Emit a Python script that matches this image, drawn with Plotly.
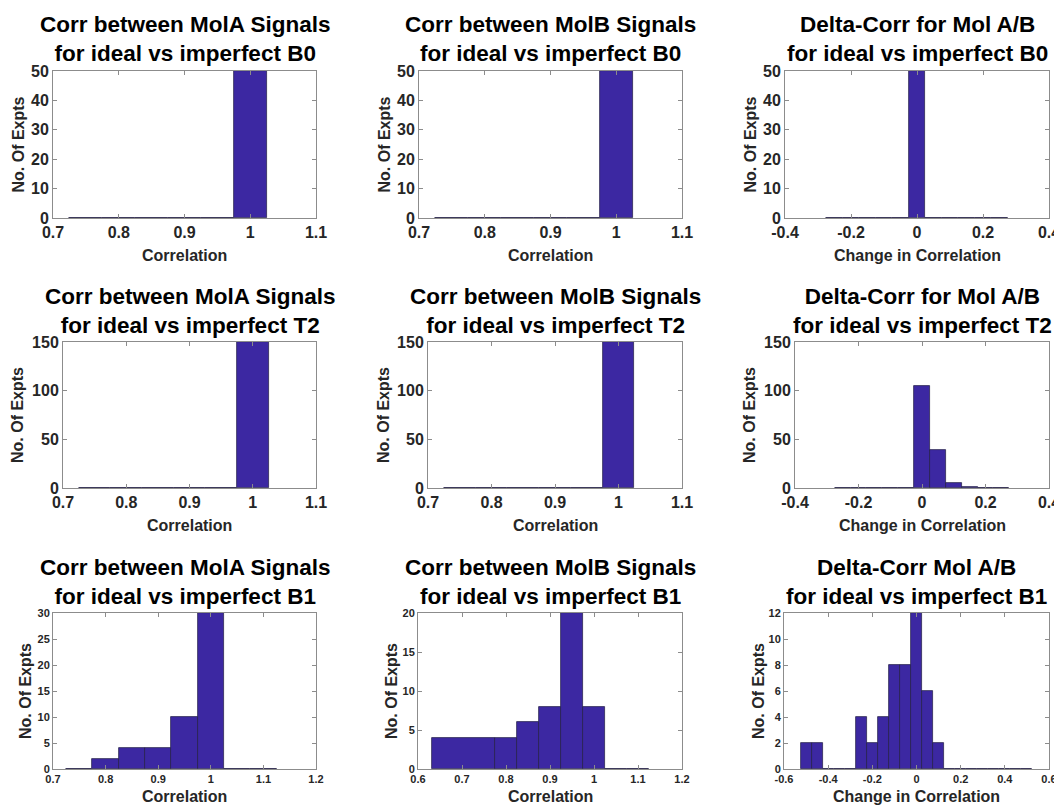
import plotly.graph_objects as go

# ---------------- data ----------------
titles = [
    "Corr between MolA Signals<br>for ideal vs imperfect B0",
    "Corr between MolB Signals<br>for ideal vs imperfect B0",
    "Delta-Corr for Mol A/B<br>for ideal vs imperfect B0",
    "Corr between MolA Signals<br>for ideal vs imperfect T2",
    "Corr between MolB Signals<br>for ideal vs imperfect T2",
    "Delta-Corr for Mol A/B<br>for ideal vs imperfect T2",
    "Corr between MolA Signals<br>for ideal vs imperfect B1",
    "Corr between MolB Signals<br>for ideal vs imperfect B1",
    "Delta-Corr Mol A/B<br>for ideal vs imperfect B1",
]
x_labels = ["Correlation", "Correlation", "Change in Correlation"] * 3
y_label = "No. Of Expts"

# histogram bin edges and counts
molA_B0_edges = [0.725, 0.775, 0.825, 0.875, 0.925, 0.975, 1.025]
molA_B0_counts = [0, 0, 0, 0, 0, 50]
molB_B0_edges = [0.725, 0.775, 0.825, 0.875, 0.925, 0.975, 1.025]
molB_B0_counts = [0, 0, 0, 0, 0, 50]
delta_B0_edges = [-0.275, -0.225, -0.175, -0.125, -0.075, -0.025, 0.025, 0.075, 0.125, 0.175, 0.225, 0.275]
delta_B0_counts = [0, 0, 0, 0, 0, 50, 0, 0, 0, 0, 0]

molA_T2_edges = [0.725, 0.775, 0.825, 0.875, 0.925, 0.975, 1.025]
molA_T2_counts = [0, 0, 0, 0, 0, 150]
molB_T2_edges = [0.725, 0.775, 0.825, 0.875, 0.925, 0.975, 1.025]
molB_T2_counts = [0, 0, 0, 0, 0, 150]
delta_T2_edges = [-0.275, -0.225, -0.175, -0.125, -0.075, -0.025, 0.025, 0.075, 0.125, 0.175, 0.225, 0.275]
delta_T2_counts = [0, 0, 0, 0, 0, 105, 39, 5, 1, 0, 0]

molA_B1_edges = [0.725, 0.775, 0.825, 0.875, 0.925, 0.975, 1.025, 1.075, 1.125]
molA_B1_counts = [0, 2, 4, 4, 10, 30, 0, 0]
molB_B1_edges = [0.632, 0.775, 0.825, 0.875, 0.925, 0.975, 1.025, 1.075, 1.125]
molB_B1_counts = [4, 4, 6, 8, 20, 8, 0, 0]
delta_B1_edges = [-0.525, -0.475, -0.425, -0.375, -0.325, -0.275, -0.225, -0.175, -0.125, -0.075,
                  -0.025, 0.025, 0.075, 0.125, 0.175, 0.225, 0.275, 0.325, 0.375, 0.425, 0.475, 0.525]
delta_B1_counts = [2, 2, 0, 0, 0, 4, 2, 4, 8, 8, 12, 6, 2, 0, 0, 0, 0, 0, 0, 0, 0]

# axis ranges and ticks
xrange_corr = [0.7, 1.1]
xticks_corr = [0.7, 0.8, 0.9, 1.0, 1.1]
xticktext_corr = ["0.7", "0.8", "0.9", "1", "1.1"]
xrange_delta4 = [-0.4, 0.4]
xticks_delta4 = [-0.4, -0.2, 0, 0.2, 0.4]
xticktext_delta4 = ["-0.4", "-0.2", "0", "0.2", "0.4"]
xrange_corrA_B1 = [0.7, 1.2]
xticks_corrA_B1 = [0.7, 0.8, 0.9, 1.0, 1.1, 1.2]
xticktext_corrA_B1 = ["0.7", "0.8", "0.9", "1", "1.1", "1.2"]
xrange_corrB_B1 = [0.6, 1.2]
xticks_corrB_B1 = [0.6, 0.7, 0.8, 0.9, 1.0, 1.1, 1.2]
xticktext_corrB_B1 = ["0.6", "0.7", "0.8", "0.9", "1", "1.1", "1.2"]
xrange_delta6 = [-0.6, 0.6]
xticks_delta6 = [-0.6, -0.4, -0.2, 0, 0.2, 0.4, 0.6]
xticktext_delta6 = ["-0.6", "-0.4", "-0.2", "0", "0.2", "0.4", "0.6"]

yrange_B0 = [0, 50]; ydtick_B0 = 10
yrange_T2 = [0, 150]; ydtick_T2 = 50
yrange_A_B1 = [0, 30]; ydtick_A_B1 = 5
yrange_B_B1 = [0, 20]; ydtick_B_B1 = 5
yrange_D_B1 = [0, 12]; ydtick_D_B1 = 2

# ---------------- layout geometry (window pixels) ----------------
OFF = 8                     # default page body margin
W, H = 1062 - OFF, 805 - OFF
panels = [
    # edges, counts, xrange, xticks, xticktext, yrange, ydtick, (left, right, top, bottom), ytitle_x, small
    (molA_B0_edges, molA_B0_counts, xrange_corr, xticks_corr, xticktext_corr, yrange_B0, ydtick_B0, (53, 316, 71, 218), 18, False),
    (molB_B0_edges, molB_B0_counts, xrange_corr, xticks_corr, xticktext_corr, yrange_B0, ydtick_B0, (419, 682, 71, 218), 384, False),
    (delta_B0_edges, delta_B0_counts, xrange_delta4, xticks_delta4, xticktext_delta4, yrange_B0, ydtick_B0, (785, 1049, 71, 218), 750, False),
    (molA_T2_edges, molA_T2_counts, xrange_corr, xticks_corr, xticktext_corr, yrange_T2, ydtick_T2, (63, 316, 342, 488), 18, False),
    (molB_T2_edges, molB_T2_counts, xrange_corr, xticks_corr, xticktext_corr, yrange_T2, ydtick_T2, (428, 682, 342, 488), 384, False),
    (delta_T2_edges, delta_T2_counts, xrange_delta4, xticks_delta4, xticktext_delta4, yrange_T2, ydtick_T2, (795, 1049, 342, 488), 750, False),
    (molA_B1_edges, molA_B1_counts, xrange_corrA_B1, xticks_corrA_B1, xticktext_corrA_B1, yrange_A_B1, ydtick_A_B1, (53, 316, 613, 769), 25, True),
    (molB_B1_edges, molB_B1_counts, xrange_corrB_B1, xticks_corrB_B1, xticktext_corrB_B1, yrange_B_B1, ydtick_B_B1, (418, 682, 613, 769), 391, True),
    (delta_B1_edges, delta_B1_counts, xrange_delta6, xticks_delta6, xticktext_delta6, yrange_D_B1, ydtick_D_B1, (784, 1049, 613, 769), 758, True),
]
title_centers_y = [39, 39, 39, 311, 311, 311, 581.5, 581.5, 581.5]
xtitle_y = [255, 255, 255, 525, 525, 525, 796, 796, 796]


def px(x):
    return (x - OFF) / W


def py(y):
    return 1 - (y - OFF) / H


BAR_COLOR = "rgb(60,40,162)"
EDGE_COLOR = "rgba(35,30,70,0.9)"
AXIS_COLOR = "#8c8c8c"
TICK_TEXT = "#262626"
FONT = "Liberation Sans, Arial, sans-serif"

fig = go.Figure()
annotations = []
layout_axes = {}

for i, (edges, counts, xr, xt, xtt, yr, ydt, box, ytx, small) in enumerate(panels):
    n = i + 1
    xa = "x" if n == 1 else f"x{n}"
    ya = "y" if n == 1 else f"y{n}"
    mids = [(edges[k] + edges[k + 1]) / 2 for k in range(len(counts))]
    widths = [edges[k + 1] - edges[k] for k in range(len(counts))]
    fig.add_trace(go.Bar(
        x=mids, y=counts, width=widths, xaxis=xa, yaxis=ya,
        marker=dict(color=BAR_COLOR, line=dict(color=EDGE_COLOR, width=0.8)),
        showlegend=False, hoverinfo="x+y",
    ))
    left, right, top, bottom = box
    tick_size = 11 if small else 16
    common = dict(
        showline=True, linecolor=AXIS_COLOR, linewidth=1, mirror="allticks",
        ticks="inside", ticklen=4, tickcolor=AXIS_COLOR, tickwidth=1,
        showgrid=False, zeroline=False, fixedrange=True, automargin=False,
        tickfont=dict(family=FONT, size=tick_size, color=TICK_TEXT, weight="bold"),
    )
    layout_axes["xaxis" if n == 1 else f"xaxis{n}"] = dict(
        common, domain=[px(left), px(right)], anchor=ya, range=xr,
        tickmode="array", tickvals=xt, ticktext=xtt,
    )
    layout_axes["yaxis" if n == 1 else f"yaxis{n}"] = dict(
        common, domain=[py(bottom), py(top)], anchor=xa, range=yr,
        tickmode="linear", tick0=0, dtick=ydt,
    )
    cx = px((left + right) / 2)
    # title
    annotations.append(dict(
        text=f"<b>{titles[i]}</b>", x=cx, y=py(title_centers_y[i]),
        xref="paper", yref="paper", xanchor="center", yanchor="middle",
        showarrow=False, font=dict(family=FONT, size=22.5, color="black"),
    ))
    # x axis title
    annotations.append(dict(
        text=f"<b>{x_labels[i]}</b>", x=cx, y=py(xtitle_y[i]),
        xref="paper", yref="paper", xanchor="center", yanchor="middle",
        showarrow=False, font=dict(family=FONT, size=16, color=TICK_TEXT),
    ))
    # y axis title
    annotations.append(dict(
        text=f"<b>{y_label}</b>", x=px(ytx), y=py((top + bottom) / 2),
        xref="paper", yref="paper", xanchor="center", yanchor="middle",
        textangle=-90, showarrow=False, font=dict(family=FONT, size=16, color=TICK_TEXT),
    ))

fig.update_layout(
    template="none",
    width=W, height=H, margin=dict(l=0, r=0, t=0, b=0, pad=0, autoexpand=False),
    paper_bgcolor="white", plot_bgcolor="white",
    bargap=0, showlegend=False, annotations=annotations,
    **layout_axes,
)

fig.write_html("out.html")
